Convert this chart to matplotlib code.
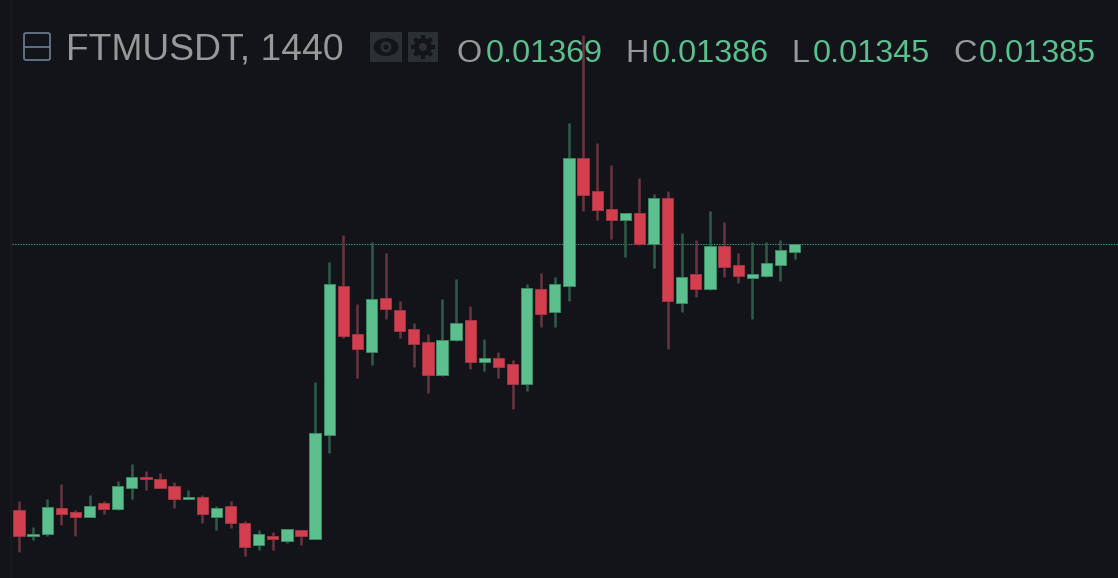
import numpy as np
import matplotlib
matplotlib.use('Agg')
import matplotlib.pyplot as plt
from matplotlib.patches import Rectangle, FancyBboxPatch, Ellipse, Circle

# prices in units of 0.00001
open_ = [853, 801, 805, 858, 849, 840, 866, 854, 898, 919, 915, 902, 876, 880,
         840, 862, 827, 783, 801, 792, 814, 796, 1004, 1302, 1205, 1170, 1276, 1254,
         1214, 1188, 1122, 1192, 1232, 1148, 1157, 1144, 1105, 1294, 1249, 1302, 1557, 1491,
         1456, 1434, 1447, 1386, 1478, 1268, 1324, 1294, 1381, 1342, 1316, 1320, 1342, 1369]
high = [871, 819, 876, 906, 853, 884, 871, 911, 946, 932, 928, 910, 893, 884,
        862, 871, 831, 814, 810, 814, 814, 1109, 1350, 1403, 1266, 1390, 1368, 1271,
        1227, 1205, 1276, 1315, 1262, 1196, 1170, 1153, 1306, 1328, 1320, 1628, 1804, 1588,
        1544, 1448, 1518, 1486, 1491, 1408, 1394, 1452, 1430, 1368, 1390, 1390, 1394, 1386]
low = [770, 793, 801, 823, 801, 840, 845, 854, 876, 894, 898, 858, 876, 828,
       814, 818, 762, 774, 774, 788, 783, 796, 968, 1197, 1118, 1144, 1236, 1197,
       1140, 1087, 1122, 1192, 1136, 1131, 1118, 1056, 1092, 1219, 1219, 1272, 1452, 1434,
       1395, 1360, 1383, 1338, 1175, 1250, 1280, 1294, 1320, 1307, 1236, 1320, 1312, 1355]
close = [801, 805, 858, 845, 840, 862, 854, 902, 919, 915, 898, 876, 880, 845,
         858, 828, 779, 805, 796, 814, 801, 1007, 1306, 1201, 1175, 1276, 1254, 1210,
         1184, 1122, 1192, 1228, 1148, 1157, 1140, 1105, 1298, 1245, 1306, 1557, 1483, 1452,
         1434, 1448, 1386, 1478, 1272, 1320, 1294, 1381, 1338, 1320, 1324, 1346, 1372, 1385]

symbol = 'FTMUSDT, 1440'
ohlc_names = ['O', 'H', 'L', 'C']
ohlc_values = ['0.01369', '0.01386', '0.01345', '0.01385']
last_price = 1385

BG = '#131419'
GREEN = '#5cc08e'
RED = '#d43f50'
GREEN_WICK = '#2f5c49'
RED_WICK = '#6b3340'
GREEN_EDGE = '#3f8a66'
RED_EDGE = '#a33443'
TEXT = '#989898'
ICON_BG = '#2b3034'
ICON_FG = '#13151a'

open_ = np.array(open_) * 1e-5
high = np.array(high) * 1e-5
low = np.array(low) * 1e-5
close = np.array(close) * 1e-5
x = np.arange(len(open_))
up = close >= open_

fig = plt.figure(figsize=(11.18, 5.78), dpi=100, facecolor=BG)
ax = fig.add_axes([0, 0, 1, 1], facecolor=BG)
ax.set_xlim(-1.35, 77.94)
ax.set_ylim(0.00717, 0.01873)
ax.axis('off')

# last price line
ax.axhline(last_price * 1e-5, xmin=12 / 1118, color='#3f9c78', lw=0.8, ls=(0, (1.2, 1.2)), zorder=1)

ax.vlines(x, low, high, colors=np.where(up, GREEN_WICK, RED_WICK), lw=1.8, zorder=2)
ax.bar(x, np.abs(close - open_), bottom=np.minimum(open_, close), width=0.8,
       color=np.where(up, GREEN, RED), edgecolor=np.where(up, GREEN_EDGE, RED_EDGE), lw=0.7, zorder=3)

# overlay in pixels for the legend row
ov = fig.add_axes([0, 0, 1, 1], facecolor='none')
ov.set_xlim(0, 1118)
ov.set_ylim(578, 0)
ov.axis('off')
ov.axvline(11, color='#181c20', lw=1.2, zorder=0)

ov.add_patch(FancyBboxPatch((24, 33), 26, 27, boxstyle='round,pad=0,rounding_size=2',
                            fc='none', ec='#66778c', lw=1.3))
ov.plot([24, 50], [46.5, 46.5], color='#66778c', lw=1.3)
ov.text(66, 60, symbol, color=TEXT, fontsize=26.8, family='Liberation Sans', va='baseline')

ov.add_patch(Rectangle((370, 32), 32, 30, fc=ICON_BG, ec='none'))
ov.add_patch(Rectangle((408, 32), 30, 30, fc=ICON_BG, ec='none'))
ov.add_patch(Ellipse((386, 47), 25, 18, fc=ICON_FG, ec='none'))
ov.add_patch(Circle((386, 47), 5.5, fc=ICON_BG, ec='none'))
ov.add_patch(Circle((386, 47), 2.5, fc=ICON_FG, ec='none'))

# gear: spokes, disc, hole
for a in np.deg2rad([0, 45, 90, 135]):
    dx, dy = 12 * np.cos(a), 12 * np.sin(a)
    ov.plot([423 - dx, 423 + dx], [47 - dy, 47 + dy], color=ICON_FG, lw=3, solid_capstyle='butt')
ov.add_patch(Circle((423, 47), 9, fc=ICON_FG, ec='none', zorder=3))
ov.add_patch(Circle((423, 47), 4, fc=ICON_BG, ec='none', zorder=4))

name_x = [457, 625, 791, 953]
value_x = [486, 652, 813, 979]
for n, v, nx, vx in zip(ohlc_names, ohlc_values, name_x, value_x):
    ov.text(nx, 62, n, color=TEXT, fontsize=23.3, family='Liberation Sans', va='baseline')
    ov.text(vx, 62, v, color=GREEN, fontsize=23.3, family='Liberation Sans', va='baseline')

fig.savefig('out.png', dpi=100, facecolor=BG)
